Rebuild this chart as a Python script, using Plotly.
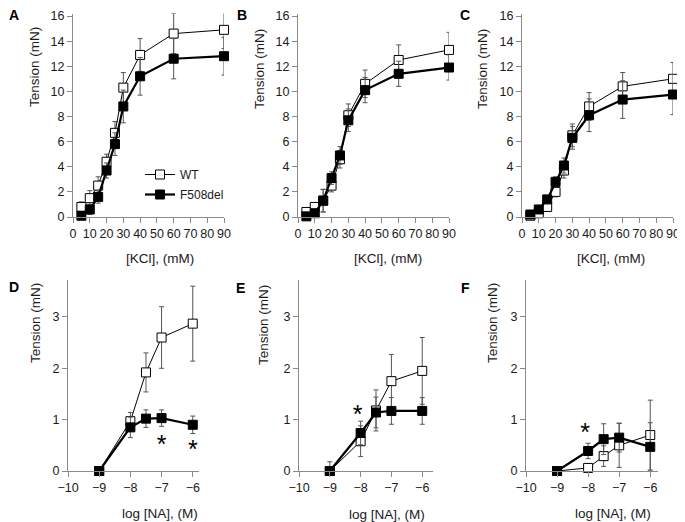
import plotly.graph_objects as go

# ---------------- data ----------------
kcl = [5, 10, 15, 20, 25, 30, 40, 60, 90]
A_wt = [0.8, 1.5, 2.5, 4.4, 6.7, 10.3, 12.9, 14.6, 14.9]
A_wt_err = [0.4, 0.6, 0.7, 0.6, 0.9, 1.2, 1.3, 1.6, 1.5]
A_f = [0.1, 0.6, 1.6, 3.7, 5.8, 8.8, 11.2, 12.6, 12.8]
A_f_err = [0.2, 0.4, 0.5, 0.6, 0.9, 1.3, 1.5, 1.6, 1.5]

B_wt = [0.4, 0.8, 1.3, 2.5, 4.6, 8.1, 10.6, 12.5, 13.3]
B_wt_err = [0.2, 0.3, 0.9, 0.5, 0.7, 0.9, 1.1, 1.2, 1.4]
B_f = [0.05, 0.3, 1.3, 3.1, 4.9, 7.7, 10.1, 11.4, 11.9]
B_f_err = [0.1, 0.2, 0.9, 0.5, 0.7, 0.9, 1.0, 1.0, 1.0]

C_wt = [0.1, 0.3, 0.8, 2.0, 3.7, 6.5, 8.8, 10.4, 11.0]
C_wt_err = [0.1, 0.2, 0.3, 0.4, 0.6, 0.9, 1.1, 1.1, 1.3]
C_f = [0.2, 0.6, 1.4, 2.8, 4.1, 6.3, 8.1, 9.35, 9.75]
C_f_err = [0.1, 0.2, 0.3, 0.4, 0.6, 0.9, 1.3, 1.5, 1.6]

log_na = [-9, -8, -7.5, -7, -6]
D_wt = [0, 0.97, 1.92, 2.6, 2.87]
D_wt_err = [0, 0.17, 0.38, 0.6, 0.73]
D_f = [0, 0.85, 1.02, 1.03, 0.9]
D_f_err = [0, 0.2, 0.17, 0.16, 0.17]

E_wt = [0, 0.58, 1.18, 1.75, 1.95]
E_wt_err = [0.18, 0.3, 0.4, 0.52, 0.65]
E_f = [0, 0.74, 1.14, 1.17, 1.17]
E_f_err = [0, 0.23, 0.3, 0.26, 0.26]

F_wt = [0, 0.06, 0.29, 0.5, 0.7]
F_wt_err = [0, 0.08, 0.2, 0.43, 0.68]
F_f = [0, 0.39, 0.62, 0.65, 0.47]
F_f_err = [0, 0.15, 0.3, 0.28, 0.47]

# significance asterisks (placement of the text box centre)
sig_D_x = [-7, -6]
sig_D_y = [0.47, 0.37]
sig_E_x = [-8.1]
sig_E_y = [1.05]
sig_F_x = [-8.1]
sig_F_y = [0.7]

panel_letters = ["A", "B", "C", "D", "E", "F"]
series_names = ["WT", "F508del"]

# ---------------- layout helpers ----------------
OFF = 8                      # default page body margin
W, H = 685 - OFF, 522 - OFF
FONT = "Liberation Sans, Arial, sans-serif"
AX_COL = "#8a8a8a"
TXT = "#1a1a1a"
TICK_SIZE = 12.5
TITLE_SIZE = 13.5


def fx(p):
    return (p - OFF) / W


def fy(p):
    return 1 - (p - OFF) / H


fig = go.Figure()

panels = [
    (kcl, A_wt, A_wt_err, A_f, A_f_err),
    (kcl, B_wt, B_wt_err, B_f, B_f_err),
    (kcl, C_wt, C_wt_err, C_f, C_f_err),
    (log_na, D_wt, D_wt_err, D_f, D_f_err),
    (log_na, E_wt, E_wt_err, E_f, E_f_err),
    (log_na, F_wt, F_wt_err, F_f, F_f_err),
]

for i, (xs, wt, wte, fv, fe) in enumerate(panels):
    n = i + 1
    xa = "x" if n == 1 else f"x{n}"
    ya = "y" if n == 1 else f"y{n}"
    fig.add_trace(go.Scatter(
        x=xs, y=wt, xaxis=xa, yaxis=ya, mode="lines+markers",
        name=series_names[0], showlegend=(n == 1), legendgroup="wt",
        line=dict(color="black", width=1),
        marker=dict(symbol="square", size=9, color="white",
                    line=dict(color="black", width=1)),
        error_y=dict(type="data", array=wte, color="#555555", thickness=1, width=2.5),
        cliponaxis=False,
    ))
    fig.add_trace(go.Scatter(
        x=xs, y=fv, xaxis=xa, yaxis=ya, mode="lines+markers",
        name=series_names[1], showlegend=(n == 1), legendgroup="f",
        line=dict(color="black", width=2.2),
        marker=dict(symbol="square", size=9, color="black",
                    line=dict(color="black", width=1)),
        error_y=dict(type="data", array=fe, color="#555555", thickness=1, width=2.5),
        cliponaxis=False,
    ))

for n, sx, sy in [(4, sig_D_x, sig_D_y), (5, sig_E_x, sig_E_y), (6, sig_F_x, sig_F_y)]:
    fig.add_trace(go.Scatter(
        x=sx, y=sy, xaxis=f"x{n}", yaxis=f"y{n}", mode="text", text=["*"] * len(sx),
        textfont=dict(size=25, color="black", family=FONT), showlegend=False,
        cliponaxis=False, hoverinfo="skip",
    ))

# geometry (pixels, in the final screenshot)
top_y = [fy(217), fy(13.5)]
bot_y = [fy(471), fy(280)]
x_doms = [(73, 224), (298, 449), (522, 673), (68, 199), (299, 433), (526, 658)]
x_ranges = [[0, 90], [0, 90], [0, 90], [-10, -5.8], [-10, -5.65], [-10, -5.75]]

axis_common = dict(
    showline=True, linecolor=AX_COL, linewidth=1, showgrid=False, zeroline=False,
    ticks="outside", tickcolor=AX_COL, ticklen=5, tickwidth=1, automargin=False,
    tickfont=dict(family=FONT, size=TICK_SIZE, color=TXT), fixedrange=True,
)

layout = {}
for i in range(6):
    n = i + 1
    xk = "xaxis" if n == 1 else f"xaxis{n}"
    yk = "yaxis" if n == 1 else f"yaxis{n}"
    top = i < 3
    xd = x_doms[i]
    layout[xk] = dict(
        axis_common, domain=[fx(xd[0]), fx(xd[1])], range=x_ranges[i],
        anchor="y" if n == 1 else f"y{n}",
        tickmode="linear", tick0=0 if top else -10, dtick=10 if top else 1,
    )
    layout[yk] = dict(
        axis_common, domain=top_y if top else bot_y,
        range=[0, 16.2] if top else [0, 3.72],
        anchor="x" if n == 1 else f"x{n}",
        tickmode="linear", tick0=0, dtick=2 if top else 1,
    )

annotations = []
letter_pos = [(14, 15), (242, 15), (465, 15), (14, 287), (240, 288), (465, 288)]
for L, (px_, py_) in zip(panel_letters, letter_pos):
    annotations.append(dict(text=f"<b>{L}</b>", x=fx(px_), y=fy(py_), xref="paper", yref="paper",
                            showarrow=False, xanchor="center", yanchor="middle",
                            font=dict(family=FONT, size=14, color="black")))

ytitle_pos = [(34, 67), (259, 69), (482, 69), (35, 323), (263, 325), (492, 323)]
for (px_, py_) in ytitle_pos:
    annotations.append(dict(text="Tension (mN)", x=fx(px_), y=fy(py_), xref="paper", yref="paper",
                            showarrow=False, textangle=-90, xanchor="center", yanchor="middle",
                            font=dict(family=FONT, size=TITLE_SIZE, color=TXT)))

xtitle_pos = [(160, 258, "[KCl], (mM)"), (388, 258, "[KCl], (mM)"), (611, 258, "[KCl], (mM)"),
              (160, 513, "log [NA], (M)"), (387, 514, "log [NA], (M)"), (613, 513, "log [NA], (M)")]
for (px_, py_, t) in xtitle_pos:
    annotations.append(dict(text=t, x=fx(px_), y=fy(py_), xref="paper", yref="paper",
                            showarrow=False, xanchor="center", yanchor="middle",
                            font=dict(family=FONT, size=TITLE_SIZE, color=TXT)))

fig.update_layout(
    width=W, height=H, margin=dict(l=0, r=0, t=0, b=0, autoexpand=False),
    paper_bgcolor="white", plot_bgcolor="white",
    font=dict(family=FONT, size=12, color=TXT),
    annotations=annotations,
    legend=dict(x=fx(140), y=fy(160), xanchor="left", yanchor="top",
                bgcolor="rgba(0,0,0,0)", itemwidth=30, tracegroupgap=1,
                traceorder="grouped",
                font=dict(family=FONT, size=12, color=TXT)),
    **layout,
)

fig.write_html("out.html")
